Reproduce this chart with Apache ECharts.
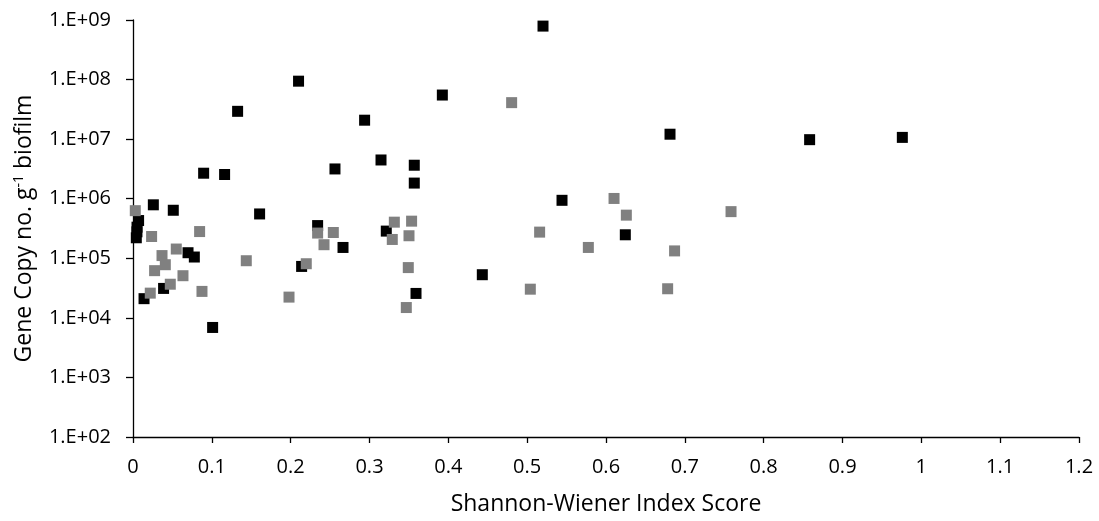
<!DOCTYPE html>
<html>
<head>
<meta charset="utf-8">
<script src="https://cdn.jsdelivr.net/npm/echarts@6/dist/echarts.min.js"></script>
<style>html,body{margin:0;padding:0;background:#fff;}#c{width:1099px;height:521px;}</style>
</head>
<body>
<div id="c"></div>
<script>
// Series 1 (black squares): [Shannon-Wiener index, gene copies per g biofilm]
const blackX = [0.0896,0.1162,0.0258,0.0511,0.1606,0.0071,0.0051,0.0050,0.0042,0.0698,0.0778,0.0388,0.0140,0.1010,0.1327,0.2100,0.3924,0.2938,0.3146,0.3568,0.2562,0.3568,0.2342,0.3213,0.2664,0.2139,0.3590,0.5201,0.6812,0.5442,0.6245,0.4431,0.8583,0.9759];
const blackY = [2.68e6,2.55e6,7.9e5,6.4e5,5.55e5,4.3e5,3.33e5,2.78e5,2.21e5,1.24e5,1.05e5,3.12e4,2.1e4,6.9e3,2.93e7,9.4e7,5.5e7,2.08e7,4.47e6,3.65e6,3.16e6,1.83e6,3.54e5,2.86e5,1.52e5,7.3e4,2.57e4,7.9e8,1.21e7,9.4e5,2.48e5,5.3e4,9.8e6,1.07e7];
// Series 2 (grey squares)
const greyX = [0.0029,0.0236,0.0845,0.0549,0.0368,0.0410,0.0274,0.0634,0.1437,0.0473,0.0219,0.0875,0.3315,0.3534,0.2342,0.2541,0.3289,0.3501,0.2423,0.3492,0.2198,0.1979,0.3467,0.4803,0.6102,0.6258,0.5158,0.5776,0.6870,0.5040,0.6782,0.7586];
const greyY = [6.3e5,2.32e5,2.81e5,1.43e5,1.11e5,7.8e4,6.2e4,5.1e4,9.1e4,3.67e4,2.6e4,2.78e4,4.04e5,4.2e5,2.65e5,2.71e5,2.07e5,2.39e5,1.69e5,6.98e4,8.1e4,2.23e4,1.49e4,4.1e7,1.01e6,5.3e5,2.75e5,1.52e5,1.33e5,3.03e4,3.08e4,6.07e5];
const xTicks = [0,0.1,0.2,0.3,0.4,0.5,0.6,0.7,0.8,0.9,1,1.1,1.2];
const yTickLabels = ['1.E+02','1.E+03','1.E+04','1.E+05','1.E+06','1.E+07','1.E+08','1.E+09'];

const FONT = 'Open Sans';
const zip = (xs, ys) => xs.map((x, i) => [x, ys[i]]);

const chart = echarts.init(document.getElementById('c'), null, {renderer: 'canvas'});
chart.setOption({
  animation: false,
  backgroundColor: '#fff',
  grid: {left: 133, right: 20, top: 20, bottom: 82, containLabel: false},
  xAxis: {
    type: 'value', min: 0, max: 1.2, interval: 0.1,
    name: 'Shannon-Wiener Index Score', nameLocation: 'middle', nameGap: 56,
    nameTextStyle: {fontFamily: FONT, fontSize: 23, color: '#000'},
    axisLine: {show: true, lineStyle: {color: '#000', width: 1.3}},
    axisTick: {show: true, inside: false, length: 6, lineStyle: {color: '#000', width: 1.3}},
    axisLabel: {fontFamily: FONT, fontSize: 20, color: '#000', margin: 20,
      formatter: v => { const t = xTicks.find(k => Math.abs(k - v) < 1e-9); return t === undefined ? '' : String(t); }},
    splitLine: {show: false}
  },
  yAxis: {
    type: 'log', logBase: 10, min: 100, max: 1e9,
    name: 'Gene Copy no. g{sup|-1} biofilm', nameLocation: 'middle', nameGap: 97,
    nameTextStyle: {fontFamily: FONT, fontSize: 23, color: '#000',
      rich: {sup: {fontFamily: FONT, fontSize: 14, color: '#000', verticalAlign: 'top', padding: [0, 0, 10, 0]}}},
    axisLine: {show: true, lineStyle: {color: '#000', width: 1.3}},
    axisTick: {show: true, length: 7, lineStyle: {color: '#000', width: 1.3}},
    axisLabel: {fontFamily: FONT, fontSize: 20, color: '#000', margin: 22,
      formatter: v => { const e = Math.round(Math.log10(v)); return yTickLabels[e - 2] || ''; }},
    splitLine: {show: false}
  },
  series: [
    {type: 'scatter', name: 'black', symbol: 'rect', symbolSize: 11,
      itemStyle: {color: '#000', opacity: 1}, data: zip(blackX, blackY), z: 2},
    {type: 'scatter', name: 'grey', symbol: 'rect', symbolSize: 11,
      itemStyle: {color: '#808080', opacity: 1}, data: zip(greyX, greyY), z: 3}
  ]
});
</script>
</body>
</html>
